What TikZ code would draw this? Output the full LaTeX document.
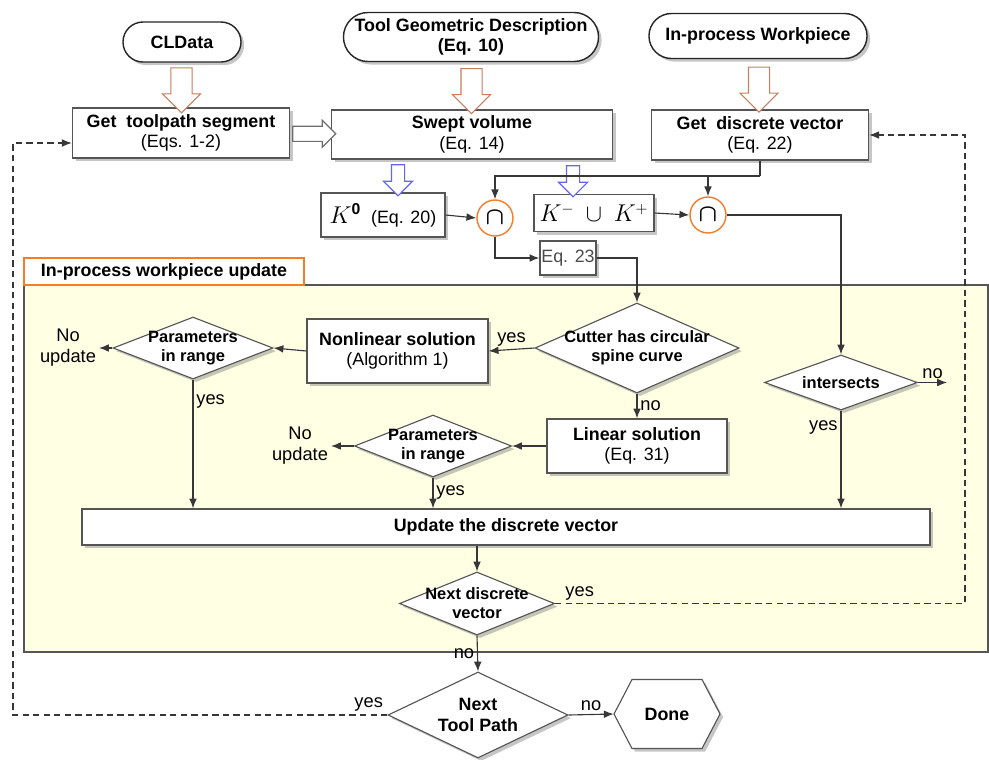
\documentclass[tikz,border=0pt]{standalone}
\usepackage{fontspec}
\setmainfont{Liberation Sans}
\usepackage{amsmath, amssymb}
\usetikzlibrary{positioning, calc, shapes.geometric, shapes.misc, shapes.arrows, shadows, arrows.meta}

\definecolor{linegray}{RGB}{55,55,55}
\definecolor{boxgray}{RGB}{85,85,85}
\definecolor{hollowbrown}{RGB}{200,125,95}
\definecolor{hollowblue}{RGB}{100,100,245}
\definecolor{hollowgray}{RGB}{110,110,110}
\definecolor{caporange}{RGB}{245,125,40}
\definecolor{regionyellow}{RGB}{255,255,228}

\tikzset{
  base/.style={font=\fontsize{12.7}{14.5}\selectfont, align=center, inner sep=0pt, text=black},
  shade/.style={drop shadow={shadow xshift=2.2pt, shadow yshift=-2.2pt, fill=black!50, opacity=0.45}},
  pill/.style={base, rounded rectangle, draw=black!85, fill=white, line width=1pt, shade},
  process/.style={base, rectangle, draw=boxgray, fill=white, line width=0.9pt, shade},
  decision/.style={base, diamond, draw=boxgray, fill=white, line width=0.8pt, shade},
  dtext/.style={base, font=\fontsize{11.7}{13.5}\selectfont\bfseries},
  capnode/.style={circle, draw=caporange, fill=white, line width=1pt, minimum size=0.9cm, inner sep=0pt, font=\fontsize{18}{20}\selectfont},
  regiontitle/.style={base, rectangle, draw=caporange, fill=white, line width=1pt, minimum width=7cm, minimum height=0.675cm},
  lbl/.style={font=\fontsize{13}{15}\selectfont, inner sep=2pt, text=black},
  bigarrow/.style={single arrow, draw=hollowbrown, fill=white, line width=0.8pt, inner xsep=0pt, inner ysep=0.25cm, minimum height=1.125cm, single arrow head extend=0.21cm, rotate=-90},
  smallarrow/.style={single arrow, draw=hollowblue, fill=white, line width=0.8pt, inner xsep=0pt, inner ysep=0.15cm, minimum height=0.775cm, single arrow head extend=0.2cm, rotate=-90},
  sidearrow/.style={single arrow, draw=hollowgray, fill=white, line width=0.8pt, inner xsep=0pt, inner ysep=0.175cm, minimum height=1.075cm, single arrow head extend=0.15cm},
  line/.style={draw=linegray, line width=0.8pt, -{Latex[length=7pt,width=5.5pt]}},
  loopline/.style={line, line width=0.9pt, dash pattern=on 4.5pt off 3pt},
  plain/.style={draw=linegray, line width=0.8pt}
}

\begin{document}
\begin{tikzpicture}[x=0.025cm, y=-0.025cm]

    % Fix the canvas
    \useasboundingbox (0,0) rectangle (989,759);

    % Update region
    \filldraw[fill=regionyellow, draw=boxgray, line width=0.8pt] (24,285) rectangle (988,652);
    \node[regiontitle] (uptitle) at (164,271.5) {\textbf{In-process workpiece update}};

    % Inputs
    \node[pill, minimum width=2.95cm, minimum height=1cm] (cldata) at (182,42) {\textbf{CLData}};
    \node[pill, minimum width=6.375cm, minimum height=1.225cm] (toolgeo) at (471,37) {\textbf{Tool Geometric Description}\\\textbf{(Eq. 10)}};
    \node[pill, minimum width=5.45cm, minimum height=1.125cm] (workpiece) at (758,36) {\textbf{In-process Workpiece}};

    % Main boxes
    \node[process, minimum width=5.425cm, minimum height=1.25cm] (toolpath) at (181,133) {\textbf{Get~ toolpath segment}\\(Eqs. 1-2)};
    \node[process, minimum width=7.025cm, minimum height=1.225cm] (swept) at (472,134.5) {\textbf{Swept volume}\\(Eq. 14)};
    \node[process, minimum width=5.425cm, minimum height=1.25cm] (discrete) at (760,135) {\textbf{Get~ discrete vector}\\(Eq. 22)};

    % Hollow arrows
    \node[bigarrow] (arra) at ($(cldata.south)!0.5!(toolpath.north)$) {};
    \node[bigarrow] (arrb) at ($(toolgeo.south)!0.5!(swept.north)$) {};
    \node[bigarrow] (arrc) at ($(workpiece.south)!0.5!(discrete.north)$) {};
    \node[sidearrow] (arrd) at ($(toolpath.east)!0.5!(swept.west)$) {};

    % Sets and intersections
    \node[process, minimum width=3.1cm, minimum height=1.1cm] (kzero) at (383,215) {{\fontsize{16}{18}\selectfont$K^{\mathbf{0}}$}\ \ (Eq. 20)};
    \node[process, minimum width=3cm, minimum height=0.925cm] (kpm) at (594,213) {\fontsize{16}{18}\selectfont$K^{-}\ \cup\ K^{+}$};
    \node[capnode] (capa) at (495,218) {$\boldsymbol{\cap}$};
    \node[capnode] (capb) at (708,215) {$\boldsymbol{\cap}$};
    \node[process, text=black!70, minimum width=1.4cm, minimum height=0.85cm] (eq23) at (568,258) {Eq. 23};
    \node[smallarrow] (arre) at (398,177) {};
    \node[smallarrow] (arrf) at (573,178) {};

    % Solutions
    \node[decision, minimum width=5.1cm, minimum height=2.25cm, label={[dtext]center:Cutter has circular\\spine curve}] (cutter) at (637,348) {};
    \node[process, minimum width=4.525cm, minimum height=1.6cm] (nonlin) at (397.5,351) {\textbf{Nonlinear solution}\\(Algorithm 1)};
    \node[decision, minimum width=4cm, minimum height=1.55cm, label={[dtext]center:Parameters\\in range}] (para) at (193,348) {};
    \node[lbl, align=center] (noupa) at (68,348) {No\\update};
    \node[process, minimum width=4.5cm, minimum height=1.35cm] (linear) at (637,446) {\textbf{Linear solution}\\(Eq. 31)};
    \node[decision, minimum width=3.925cm, minimum height=1.55cm, label={[dtext]center:Parameters\\in range}] (parb) at (433,446) {};
    \node[lbl, align=center] (noupb) at (300,446) {No\\update};
    \node[decision, minimum width=3.825cm, minimum height=1.375cm, label={[dtext]center:intersects}] (inter) at (841,382.5) {};
    \coordinate (exitpt) at (947,382.5);

    % Update and loops
    \node[process, minimum width=21.2cm, minimum height=0.9cm] (update) at (506,527) {\textbf{Update the discrete vector}};
    \node[decision, minimum width=3.875cm, minimum height=1.575cm, label={[dtext]center:Next discrete\\vector}] (nextdv) at (477,603.5) {};
    \node[decision, minimum width=4.5cm, minimum height=2.15cm, label={[dtext, font=\fontsize{12.7}{14.5}\selectfont\bfseries]center:Next\\Tool Path}] (nexttp) at (478,715) {};

    % Done
    \filldraw[fill=white, draw=boxgray, line width=0.8pt, shade] (614,714) -- (632,679.5) -- (702,679.5) -- (720,714) -- (702,748.5) -- (632,748.5) -- cycle;
    \node[base, minimum width=2.65cm, minimum height=1.725cm] (done) at (667,714) {\textbf{Done}};

    % Connectors at the top
    \draw[line] (kzero.east) -- (capa.west);
    \draw[line] (kpm.east) -- (capb.west);
    \coordinate (split) at (discrete.south |- 0,176);
    \draw[plain] (discrete.south) -- (split);
    \draw[line] (split) -| (capa.north);
    \draw[line] (split -| capb.north) -- (capb.north);
    \draw[line] (capa.south) |- (eq23.west);
    \draw[line] (eq23.east) -| (cutter.north);
    \draw[line] (capb.east) -| (inter.north);

    % Connectors in the region
    \draw[line] (cutter.west) -- node[lbl, above] {yes} (nonlin.east);
    \draw[line] (nonlin.west) -- (para.east);
    \draw[line] (para.west) -- (noupa.east);
    \draw[line] (para.south) -- node[lbl, pos=0.17, right] {yes} (para.south |- update.north);
    \draw[line] (cutter.south) -- node[lbl, right] {no} (linear.north);
    \draw[line] (linear.west) -- (parb.east);
    \draw[line] (parb.west) -- (noupb.east);
    \draw[line] (parb.south) -- node[lbl, right] {yes} (parb.south |- update.north);
    \draw[line] (inter.east) -- node[lbl, above] {no} (exitpt);
    \draw[line] (inter.south) -- node[lbl, pos=0.17, left] {yes} (inter.south |- update.north);
    \draw[line] (update.south -| nextdv.north) -- (nextdv.north);
    \draw[line] (nextdv.south) -- node[lbl, left] {no} (nexttp.north);
    \draw[line] (nexttp.east) -- node[lbl, above] {no} (done.west);

    % Loops back
    \coordinate (loopr) at (965,0);
    \coordinate (loopl) at (13,0);
    \draw[loopline] (nextdv.east) -- node[lbl, above, pos=0.06] {yes} (nextdv.east -| loopr) |- (discrete.east);
    \draw[loopline] (nexttp.west) -- node[lbl, above, pos=0.05] {yes} (nexttp.west -| loopl) |- ([yshift=-0.25cm]toolpath.west);

\end{tikzpicture}
\end{document}
